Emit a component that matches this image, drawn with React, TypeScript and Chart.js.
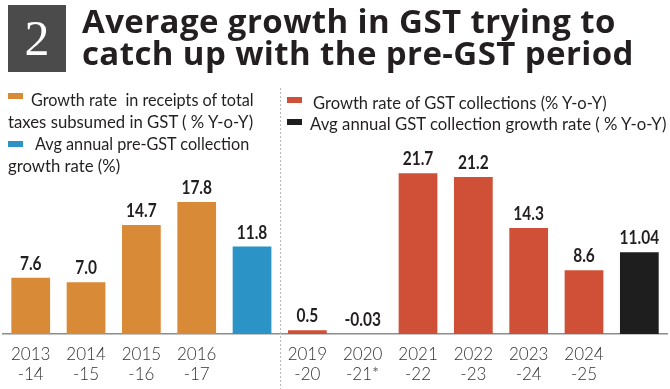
import React, { useEffect, useRef } from "react";
import { Chart, registerables } from "chart.js";

Chart.register(...registerables);

const categories: (string | string[])[] = [
  ["2013", "-14"], ["2014", "-15"], ["2015", "-16"], ["2016", "-17"], "",
  ["2019", "-20"], ["2020", "-21*"], ["2021", "-22"], ["2022", "-23"], ["2023", "-24"], ["2024", "-25"], "",
];
const preGstGrowth = [7.6, 7.0, 14.7, 17.8, null, null, null, null, null, null, null, null];
const preGstAvg = [null, null, null, null, 11.8, null, null, null, null, null, null, null];
const gstGrowth = [null, null, null, null, null, 0.5, -0.03, 21.7, 21.2, 14.3, 8.6, null];
const gstAvg = [null, null, null, null, null, null, null, null, null, null, null, 11.04];
const valueLabels = ["7.6", "7.0", "14.7", "17.8", "11.8", "0.5", "-0.03", "21.7", "21.2", "14.3", "8.6", "11.04"];

const titleLines = ["Average growth in GST trying to", "catch up with the pre-GST period"];
const legendLeft1 = ["Growth rate  in receipts of total", "taxes subsumed in GST ( % Y-o-Y)"];
const legendLeft2 = ["Avg annual pre-GST collection", "growth rate (%)"];
const legendRight1 = "Growth rate of GST collections (% Y-o-Y)";
const legendRight2 = "Avg annual GST collection growth rate ( % Y-o-Y)";

const ORANGE = "#d98a36";
const BLUE = "#2b93c6";
const RED = "#cf5036";
const BLACK = "#1e1e1e";
const TEXT = "#231f20";

const valueLabelPlugin = {
  id: "valueLabels",
  afterDatasetsDraw(chart: any) {
    const ctx = chart.ctx;
    ctx.save();
    ctx.fillStyle = TEXT;
    ctx.font = "bold 18px Lato";
    ctx.textAlign = "center";
    ctx.textBaseline = "alphabetic";
    chart.data.datasets.forEach((ds: any, di: number) => {
      const meta = chart.getDatasetMeta(di);
      meta.data.forEach((el: any, i: number) => {
        if (ds.data[i] === null || ds.data[i] === undefined) return;
        const top = Math.min(el.y, el.base);
        ctx.save();
        ctx.translate(el.x, top - 8);
        ctx.scale(0.86, 1);
        ctx.fillText(valueLabels[i], 0, 0);
        ctx.restore();
      });
    });
    ctx.restore();
  },
};

const dividerPlugin = {
  id: "divider",
  beforeDatasetsDraw(chart: any) {
    const ctx = chart.ctx;
    const xs = chart.scales.x;
    const x = Math.round((xs.getPixelForValue(4) + xs.getPixelForValue(5)) / 2) + 0.5;
    ctx.save();
    ctx.strokeStyle = "#b8b8b8";
    ctx.lineWidth = 1;
    ctx.setLineDash([2, 2]);
    ctx.beginPath();
    ctx.moveTo(x, 88);
    ctx.lineTo(x, 389);
    ctx.stroke();
    ctx.restore();
  },
};

const legendText: React.CSSProperties = {
  position: "absolute",
  fontFamily: "Lato",
  fontSize: 18,
  lineHeight: "18px",
  color: TEXT,
  whiteSpace: "pre",
  transformOrigin: "left top",
};

function Swatch({ x, y, color }: { x: number; y: number; color: string }) {
  return <div style={{ position: "absolute", left: x, top: y, width: 15, height: 6, background: color }} />;
}

function Line({ x, baseline, text, sx = 0.92 }: { x: number; baseline: number; text: string; sx?: number }) {
  return <div style={{ ...legendText, left: x, top: baseline - 16, transform: `scaleX(${sx})` }}>{text}</div>;
}

export default function App() {
  const ref = useRef<HTMLCanvasElement>(null);
  useEffect(() => {
    if (!ref.current) return;
    const chart = new Chart(ref.current, {
      type: "bar",
      data: {
        labels: categories,
        datasets: [
          { label: "pre", data: preGstGrowth, backgroundColor: ORANGE },
          { label: "preAvg", data: preGstAvg, backgroundColor: BLUE },
          { label: "gst", data: gstGrowth, backgroundColor: RED },
          { label: "gstAvg", data: gstAvg, backgroundColor: BLACK },
        ] as any,
      },
      options: {
        responsive: false,
        maintainAspectRatio: false,
        animation: false,
        datasets: { bar: { grouped: false, barPercentage: 0.7, categoryPercentage: 1 } } as any,
        layout: { padding: { top: 171, left: 0, right: 3, bottom: 0 } },
        plugins: { legend: { display: false }, tooltip: { enabled: false } },
        scales: {
          x: {
            grid: { display: false, drawTicks: false },
            border: { display: true, color: "#8c8c8c", width: 1.5 },
            ticks: {
              font: { family: "Lato", size: 17, weight: "300", lineHeight: 1.15 },
              color: "#333",
              padding: 11,
              maxRotation: 0,
              autoSkip: false,
            },
            afterFit: (s: any) => { s.height = 55; },
          } as any,
          y: { display: false, min: 0, max: 22 },
        },
      },
      plugins: [dividerPlugin, valueLabelPlugin],
    });
    return () => chart.destroy();
  }, []);

  return (
    <div style={{ position: "absolute", left: 0, top: 0, width: 670, height: 389, background: "#fff", overflow: "hidden" }}>
      <canvas ref={ref} width={670} height={389} style={{ position: "absolute", left: 0, top: 0, display: "block" }} />
      <div style={{ position: "absolute", left: 8, top: 5, width: 58, height: 67, background: "#4b4b4b", color: "#fff", fontFamily: "'Liberation Serif', serif", fontSize: 50, lineHeight: "67px", textAlign: "center" }}>2</div>
      <div style={{ position: "absolute", left: 82, top: 5, fontFamily: "'Open Sans'", fontWeight: 700, fontSize: 33, letterSpacing: 0.4, lineHeight: "32px", color: TEXT, whiteSpace: "pre" }}>
        {titleLines.map((t, i) => <div key={i}>{t}</div>)}
      </div>
      <Swatch x={8} y={93} color={ORANGE} />
      <Line x={31} baseline={106} text={legendLeft1[0]} sx={0.9} />
      <Line x={8} baseline={128} text={legendLeft1[1]} sx={0.93} />
      <Swatch x={8} y={141} color={BLUE} />
      <Line x={35} baseline={150} text={legendLeft2[0]} sx={0.9} />
      <Line x={8} baseline={172} text={legendLeft2[1]} sx={0.93} />
      <Swatch x={287} y={97} color={RED} />
      <Line x={313} baseline={109} text={legendRight1} sx={0.92} />
      <Swatch x={287} y={119} color={BLACK} />
      <Line x={310} baseline={130} text={legendRight2} sx={0.93} />
    </div>
  );
}
